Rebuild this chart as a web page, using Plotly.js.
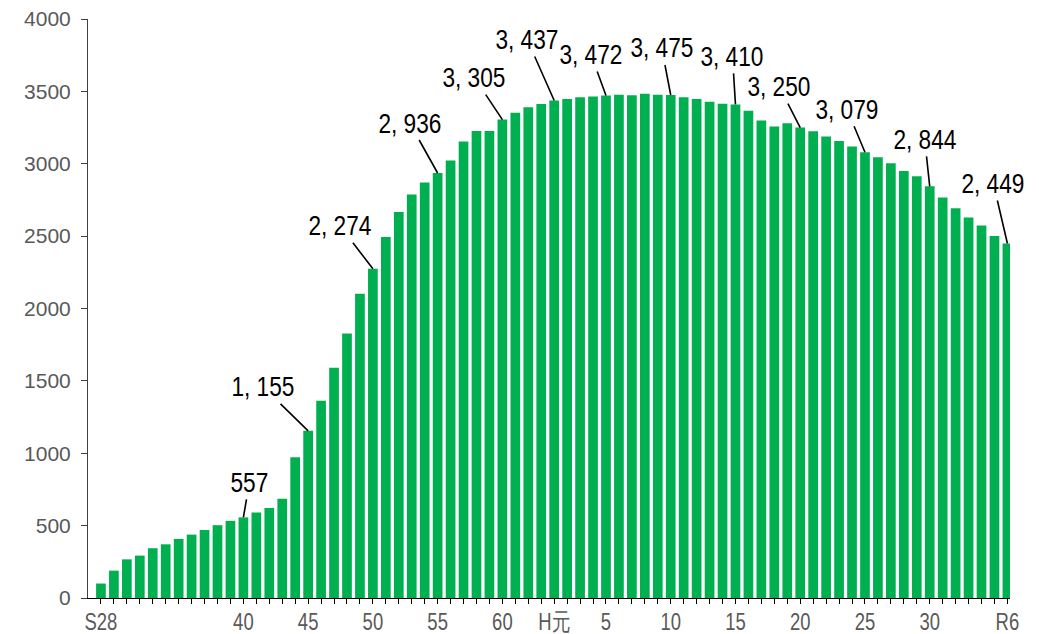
<!DOCTYPE html>
<html>
<head>
<meta charset="utf-8">
<script src="https://cdn.plot.ly/plotly-3.0.1.min.js"></script>
<style>
  html, body { margin: 0; padding: 0; background: #ffffff; }
  #chart { width: 1039px; height: 634px; }
</style>
</head>
<body>
<div id="chart"></div>
<script>
// Year categories (Showa -> Heisei -> Reiwa), one bar each
const categories = [
  'S28','S30','S31','S32','S33','S34','S35','S36','S37','S38','S39',
  'S40','S41','S42','S43','S44','S45','S46','S47','S48','S49',
  'S50','S51','S52','S53','S54','S55','S56','S57','S58','S59',
  'S60','S61','S62','S63',
  'H1','H2','H3','H4','H5','H6','H7','H8','H9','H10',
  'H11','H12','H13','H14','H15','H16','H17','H18','H19','H20',
  'H21','H22','H23','H24','H25','H26','H27','H28','H29','H30',
  'R1','R2','R3','R4','R5','R6'
];

// Yearly counts
const counts = [
  100, 189, 267, 293, 344, 371, 408, 438, 470, 503, 533,
  557, 590, 622, 685, 973, 1155, 1362, 1591, 1828, 2102,
  2274, 2494, 2667, 2787, 2870, 2936, 3022, 3154, 3227, 3226,
  3305, 3352, 3391, 3412,
  3437, 3448, 3460, 3465, 3472, 3476, 3474, 3483, 3476, 3475,
  3460, 3448, 3428, 3414, 3410, 3366, 3299, 3257, 3280, 3250,
  3225, 3188, 3158, 3119, 3079, 3045, 3003, 2950, 2914, 2844,
  2766, 2692, 2628, 2573, 2501, 2449
];

// Labelled ticks on the year axis
const tickCategories = ['S28','S40','S45','S50','S55','S60','H1','H5','H10','H15','H20','H25','H30','R6'];
const tickLabels     = ['S28','40','45','50','55','60','H元','5','10','15','20','25','30','R6'];

// Years whose values are called out, with the callout text offset (px)
const calloutYears = ['S40','S45','S50','S55','S60','H1','H5','H10','H15','H20','H25','H30','R6'];
const calloutDx    = [6, -45, -33, -28, -28, -27, -15, -9, -3, -21, -18, -5, -14];
const calloutDy    = [-35, -44, -43, -50, -42, -61, -41, -47, -48, -41, -43, -47, -60];

const sansFont = '"Liberation Sans", Arial, sans-serif';

function formatCount(v) {
  const s = String(v);
  if (s.length <= 3) return s;
  return s.slice(0, s.length - 3) + ', ' + s.slice(s.length - 3);
}

// Every category gets a tick mark; only selected ones get a label
const allTickText = categories.map(c => {
  const i = tickCategories.indexOf(c);
  return i >= 0 ? tickLabels[i] : '';
});

const annotations = calloutYears.map((yr, i) => {
  const v = counts[categories.indexOf(yr)];
  return {
    x: yr, y: v, xref: 'x', yref: 'y',
    text: formatCount(v),
    showarrow: true, arrowhead: 0, arrowwidth: 1.6, arrowcolor: '#000000',
    ax: calloutDx[i], ay: calloutDy[i],
    font: { family: sansFont, size: 28, color: '#000000' },
    borderpad: 1
  };
});

const trace = {
  type: 'bar',
  x: categories,
  y: counts,
  marker: { color: '#00B050', line: { width: 0 } },
  hoverinfo: 'x+y'
};

const layout = {
  width: 1039, height: 634,
  margin: { l: 88, r: 29, t: 19, b: 36 },
  paper_bgcolor: '#ffffff', plot_bgcolor: '#ffffff',
  showlegend: false,
  bargap: 0.25,
  xaxis: {
    type: 'category',
    range: [-1, 70.2],
    tickmode: 'array',
    tickvals: categories,
    ticktext: allTickText,
    ticks: 'outside', ticklen: 5, tickwidth: 1, tickcolor: '#000000',
    showline: true, linecolor: '#000000', linewidth: 1,
    showgrid: false, zeroline: false,
    tickangle: 0,
    ticklabelstandoff: -3,
    tickfont: { family: sansFont, size: 24, color: '#595959' }
  },
  yaxis: {
    range: [0, 4000],
    tickmode: 'linear', tick0: 0, dtick: 500,
    ticks: 'outside', ticklen: 6, tickwidth: 1, tickcolor: '#404040',
    showline: true, linecolor: '#404040', linewidth: 1,
    showgrid: false, zeroline: false,
    ticklabelstandoff: 6,
    tickfont: { family: sansFont, size: 21, color: '#595959' }
  },
  annotations: annotations
};

// Narrow the glyphs of a group of text elements (condensed look)
function condense(selector, factor) {
  document.querySelectorAll(selector).forEach(t => {
    const w = t.getComputedTextLength();
    if (w > 0) {
      t.setAttribute('textLength', (w * factor).toFixed(2));
      t.setAttribute('lengthAdjust', 'spacingAndGlyphs');
    }
  });
}

Plotly.newPlot('chart', [trace], layout, { displayModeBar: false, staticPlot: true })
  .then(() => {
    condense('#chart .annotation-text', 0.81);
    condense('#chart .xtick text', 0.77);
  });
</script>
</body>
</html>
